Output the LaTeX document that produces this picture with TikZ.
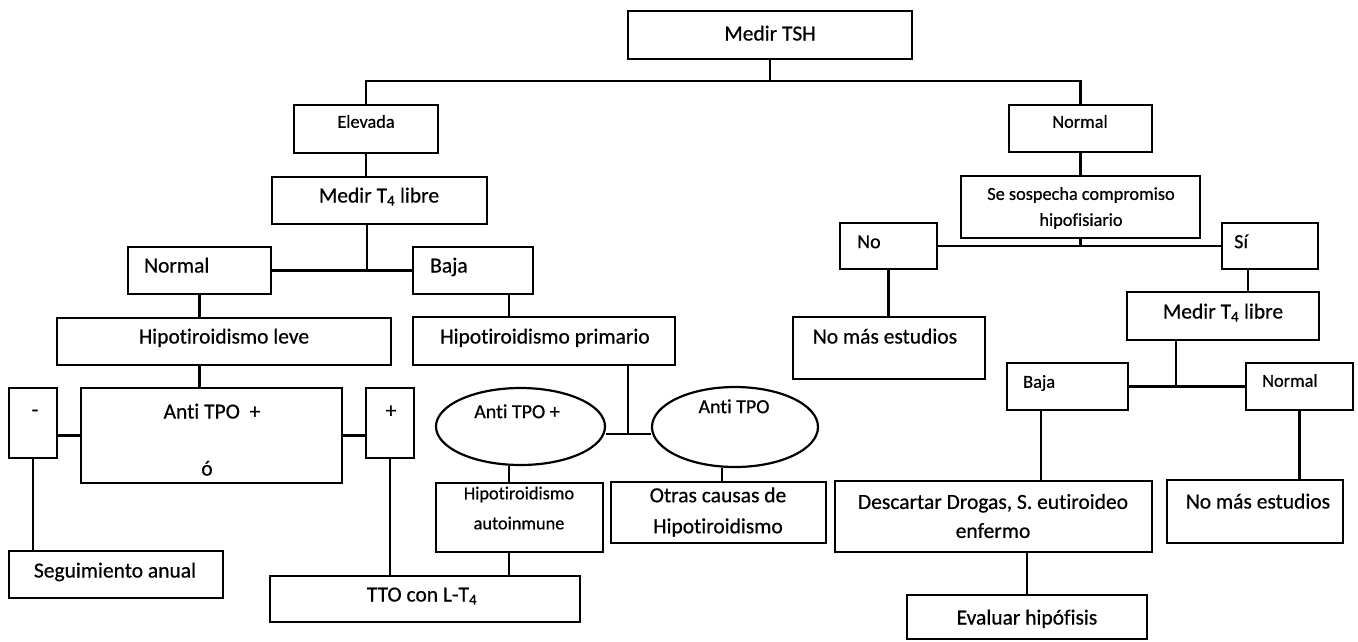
\documentclass[tikz,border=0pt]{standalone}
\usepackage{fontspec}
\setmainfont{Carlito}[Ligatures=NoCommon, FakeBold=0.6, AutoFakeBold=0.6]
\usetikzlibrary{shapes.geometric,calc}
\newcommand\bigf{\fontsize{21.5}{26}\selectfont\bfseries}
\newcommand\smallf{\fontsize{18.3}{22}\selectfont\bfseries}
\newcommand\midf{\fontsize{20}{24}\selectfont\bfseries}
\tikzset{
  frame/.style={draw, line width=2.2pt, inner sep=0pt},
  oval/.style={draw, ellipse, line width=2.2pt, inner sep=0pt},
  bigt/.style={inner sep=0pt, font=\bigf, text height=15pt, text depth=4pt},
  midt/.style={inner sep=0pt, font=\midf, text height=14pt, text depth=3.7pt},
  smt/.style={inner sep=0pt, font=\smallf, text height=13pt, text depth=3.5pt},
  wire/.style={line width=2.1pt},
}
\newcommand\frm[5]{\node[frame, minimum width={(#4-#2)*1pt}, minimum height={(#5-#3)*1pt}] (#1) at ({(#2+#4)/2},{(#3+#5)/2}) {};}
\begin{document}
\begin{tikzpicture}[x=1pt,y=-1pt]
\useasboundingbox (0,0) rectangle (1358,641);
% boxes
\frm{tsh}{628}{11}{912}{59}
\frm{elev}{294}{105}{438}{153}
\frm{normR}{1009}{105}{1152}{152}
\frm{mtL}{272}{177}{487}{224}
\frm{normL}{128}{247}{271}{294}
\frm{bajaL}{413}{247}{533}{294}
\frm{leve}{57}{318}{391}{365}
\frm{prim}{413}{317}{675}{365}
\frm{minus}{9}{388}{57}{458}
\frm{anti}{81}{388}{342}{483}
\frm{plus}{366}{388}{414}{458}
\frm{seg}{9}{551}{223}{598}
\frm{tto}{270}{576}{580}{622}
\node[oval, minimum width=169pt, minimum height=77pt] (ella) at (520.5,426.5) {};
\node[oval, minimum width=166pt, minimum height=80pt] (ellb) at (735,427) {};
\frm{autoi}{436}{483}{603}{552}
\frm{otras}{611}{482}{826}{543}
\frm{sosp}{961}{176}{1200}{238}
\frm{no}{840}{223}{937}{269}
\frm{si}{1222}{223}{1318}{269}
\frm{nomasA}{793}{317}{985}{379}
\frm{mtR}{1127}{292}{1319}{340}
\frm{bajaR}{1007}{363}{1128}{410}
\frm{normB}{1246}{363}{1353}{410}
\frm{desc}{835}{481}{1152}{552}
\frm{nomasB}{1167}{480}{1343}{543}
\frm{evalh}{907}{595}{1147}{639}
% texts
\node[bigt] (tsh-t) at (770,35) {Medir TSH};
\node[smt] (elev-t) at (366,123) {Elevada};
\node[smt] (normR-t) at (1080,123) {Normal};
\node[bigt] (mtL-t) at (379,197) {Medir T\textsubscript{4} libre};
\node[bigt, anchor=west] (normL-t) at (144,267) {Normal};
\node[bigt, anchor=west] (bajaL-t) at (430,267) {Baja};
\node[bigt] (leve-t) at (224,338) {Hipotiroidismo leve};
\node[bigt] (prim-t) at (545,338) {Hipotiroidismo primario};
\node[bigt] (minus-t) at (35,411) {-};
\node[bigt] (plus-t) at (391,412) {+};
\node[bigt] (anti-t) at (212,413) {Anti TPO\ \ +};
\node[bigt] (anti-o) at (207,470) {ó};
\node[bigt] (seg-t) at (115,572) {Seguimiento anual};
\node[bigt] (tto-t) at (422,596) {TTO con L-T\textsubscript{4}};
\node[midt] (ella-t) at (517,413) {Anti TPO +};
\node[midt] (ellb-t) at (734,408) {Anti TPO};
\node[inner sep=0pt, align=center, font=\fontsize{18.3}{30}\selectfont\bfseries] (autoi-t) at (519,508) {Hipotiroidismo\\autoinmune};
\node[inner sep=0pt, align=center, font=\fontsize{21.5}{31}\selectfont\bfseries] (otras-t) at (718,512) {Otras causas de\\Hipotiroidismo};
\node[inner sep=0pt, align=center, font=\fontsize{18.3}{26}\selectfont\bfseries] (sosp-t) at (1081,208) {Se sospecha compromiso\\hipofisiario};
\node[midt, anchor=west] (no-t) at (857,243) {No};
\node[midt, anchor=west] (si-t) at (1234,243) {Sí};
\node[bigt] (nomasA-t) at (885,338) {No más estudios};
\node[bigt] (mtR-t) at (1223,313) {Medir T\textsubscript{4} libre};
\node[smt, anchor=west] (bajaR-t) at (1023,383) {Baja};
\node[smt, anchor=west] (normB-t) at (1262,382) {Normal};
\node[inner sep=0pt, align=center, font=\fontsize{21.5}{29}\selectfont\bfseries] (desc-t) at (993,516) {Descartar Drogas, S. eutiroideo\\enfermo};
\node[bigt] (nomasB-t) at (1258,503) {No más estudios};
\node[bigt] (evalh-t) at (1027,619) {Evaluar hipófisis};
% connectors
\coordinate (jA) at (770,81);
\draw[wire] (tsh.south) -- (jA);
\draw[wire] (elev.north) |- (jA) -| (normR.north);
\draw[wire] (elev.south) -- (elev.south |- mtL.north);
\coordinate (jB) at (367,270.5);
\draw[wire] (mtL.south -| jB) -- (jB);
\draw[wire] (normL.east) -- (bajaL.west);
\draw[wire] (normL.south) -- (normL.south |- leve.north);
\draw[wire] (normL.south |- leve.south) -- (normL.south |- anti.north);
\coordinate (cx) at (509,0);
\draw[wire] (bajaL.south -| cx) -- (prim.north -| cx);
\draw[wire] (anti.west) -- (anti.west -| minus.east);
\draw[wire] (anti.east) -- (anti.east -| plus.west);
\draw[wire] (minus.south) -- (minus.south |- seg.north);
\draw[wire] (plus.south) -- (plus.south |- tto.north);
\coordinate (jC) at (628,434);
\draw[wire] (prim.south -| jC) -- (jC);
\draw[wire] (ella.east |- jC) -- (ellb.west |- jC);
\draw[wire] (ella.south -| cx) -- (autoi.north -| cx);
\coordinate (cy) at (722,0);
\draw[wire] (ellb.south -| cy) -- (otras.north -| cy);
\draw[wire] (autoi.south -| cx) -- (tto.north -| cx);
\draw[wire] (normR.south) -- (sosp.north);
\draw[wire] (no.east) -- (si.west);
\draw[wire] (sosp.south) -- (sosp.south |- no.east);
\draw[wire] (no.south) -- (no.south |- nomasA.north);
\coordinate (cz) at (1248,0);
\draw[wire] (si.south -| cz) -- (mtR.north -| cz);
\coordinate (cw) at (1176,0);
\draw[wire] (mtR.south -| cw) -- (bajaR.east -| cw);
\draw[wire] (bajaR.east) -- (normB.west);
\coordinate (cv) at (1041,0);
\draw[wire] (bajaR.south -| cv) -- (desc.north -| cv);
\draw[wire] (normB.south) -- (normB.south |- nomasB.north);
\draw[wire] (evalh.north) -- (evalh.north |- desc.south);
\end{tikzpicture}
\end{document}
